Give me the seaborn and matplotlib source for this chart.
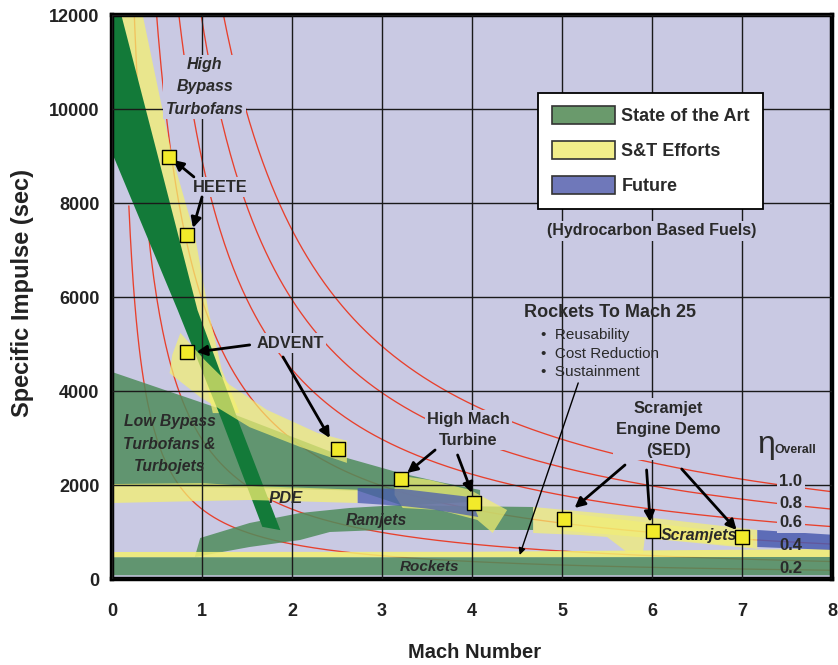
import numpy as np
import pandas as pd
import matplotlib
matplotlib.use("Agg")
import matplotlib.pyplot as plt
from matplotlib.patches import Patch
import seaborn as sns

# ---------------- overall-efficiency reference curves ----------------
eta_levels = [0.1, 0.2, 0.4, 0.6, 0.8, 1.0]
eta_curve_top = [8600, 13000, 13000, 13000, 13000, 13000]   # upper Isp extent drawn
eta_label_text = ["1.0", "0.8", "0.6", "0.4", "0.2"]
eta_label_isp = [2064, 1596, 1192, 723, 234]
fuel_heating_value = 43.0e6   # J/kg, hydrocarbon fuel
g0 = 9.81                     # m/s^2
sound_speed = 295.0           # m/s

# ---------------- demonstrator programs (squares) ----------------
program_names = ["HEETE", "HEETE", "ADVENT", "ADVENT", "HMT", "HMT", "SED", "SED", "SED"]
program_mach = [0.63, 0.83, 0.83, 2.51, 3.21, 4.02, 5.02, 6.01, 7.00]
program_isp = [8980, 7320, 4830, 2770, 2130, 1620, 1280, 1020, 895]

# ---------------- engine-class regions (Mach, Isp outlines) ----------------
hbt_soa_mach = [0.00, 0.00, 0.73, 1.22, 1.67, 1.87, 1.40, 0.95, 0.50, 0.09]
hbt_soa_isp = [12100, 9070, 5720, 3380, 1110, 1040, 3380, 5720, 9070, 12100]

heete_mach = [0.03, 0.33, 0.67, 0.92, 1.07, 1.22, 1.42, 1.12, 0.87, 0.42]
heete_isp = [12100, 12100, 8980, 7320, 5720, 4450, 3530, 3530, 5720, 9070]

advent_mach = [0.76, 1.03, 1.31, 1.72, 2.28, 2.61, 2.61, 2.09, 1.53, 0.98, 0.64, 0.67]
advent_isp = [5235, 4660, 4130, 3600, 3110, 2940, 2470, 2810, 3230, 3870, 4380, 4770]

lowbp_mach = [0.00, 1.17, 2.09, 2.61, 3.20, 3.64, 4.09, 4.09, 3.23, 2.73, 1.50, 0.00]
lowbp_isp = [4405, 3640, 2960, 2575, 2256, 2064, 1894, 1650, 1560, 1880, 1940, 1980]

pde_mach = [0.00, 1.00, 1.53, 2.73, 2.73, 1.53, 1.00, 0.00]
pde_isp = [2020, 2040, 1980, 1900, 1617, 1681, 1660, 1617]

hmt_mach = [3.14, 3.53, 3.98, 4.39, 4.23, 4.06, 3.64, 3.23, 3.14]
hmt_isp = [2213, 2107, 1894, 1468, 979, 1256, 1468, 1511, 1787]

hmt_future_mach = [2.73, 3.23, 3.98, 4.07, 3.53, 3.23, 2.73]
hmt_future_isp = [1936, 1915, 1745, 1319, 1490, 1553, 1617]

ramjet_mach = [0.92, 0.98, 1.53, 2.09, 2.64, 3.20, 3.76, 4.68, 4.68, 3.90, 2.98, 2.42, 2.09, 1.53]
ramjet_isp = [468, 872, 1192, 1404, 1511, 1575, 1553, 1532, 1043, 1043, 1043, 1000, 830, 681]

rocket_mach = [0.0, 4.0, 8.1]
rocket_soa_low = [90, 90, 90]
rocket_soa_high = [475, 475, 480]
rocket_st_high = [585, 590, 650]

scram_mach = [4.68, 6.01, 7.17, 7.17, 5.92, 5.90, 5.72, 5.50, 5.20, 4.68]
scram_isp = [1532, 1298, 1043, 640, 872, 553, 575, 894, 936, 979]

scram_core_mach = [4.94, 7.12, 7.12, 4.94]
scram_core_isp = [1426, 936, 681, 1043]

scram_future_mach = [7.17, 8.10, 8.10, 7.17]
scram_future_isp = [1043, 930, 610, 681]

# ---------------- colours ----------------
BG = "#C9C9E3"
GREEN = "#4F8C5C"
DARK_GREEN = "#137A39"
YELLOW = "#F4F070"
BLUE = "#4A5CB0"
RED = "#E8402C"
TXT = "#2a2a2a"

sns.set_style("white")
plt.rcParams["font.family"] = ["Liberation Sans", "DejaVu Sans"]
plt.rcParams["font.weight"] = "bold"

fig = plt.figure(figsize=(8.38, 6.65), dpi=100)
ax = fig.add_axes([112 / 838, 86 / 665, 720 / 838, 564 / 665])
ax.set_facecolor(BG)

# efficiency curves: Isp = eta * Q / (g0 * a * M)
mach_grid = np.linspace(0.04, 8.2, 500)
frames = []
for e, top in zip(eta_levels, eta_curve_top):
    isp = e * fuel_heating_value / (g0 * sound_speed * mach_grid)
    keep = isp < top
    frames.append(pd.DataFrame({"mach": mach_grid[keep], "isp": isp[keep], "eta": e}))
curve_df = pd.concat(frames, ignore_index=True)
sns.lineplot(data=curve_df, x="mach", y="isp", units="eta", estimator=None,
             sort=False, color=RED, lw=0.95, ax=ax, zorder=1, legend=False)

def region(mx, iy, color, alpha, z):
    ax.fill(mx, iy, color=color, alpha=alpha, lw=0, zorder=z)

region(lowbp_mach, lowbp_isp, GREEN, 0.85, 2)
region(ramjet_mach, ramjet_isp, GREEN, 0.85, 2)
ax.fill_between(rocket_mach, rocket_soa_low, rocket_soa_high, color=GREEN, alpha=0.85, lw=0, zorder=2)
ax.fill_between(rocket_mach, rocket_soa_high, rocket_st_high, color=YELLOW, alpha=0.85, lw=0, zorder=2)
region(heete_mach, heete_isp, YELLOW, 0.75, 2.1)
region(hbt_soa_mach, hbt_soa_isp, DARK_GREEN, 1.0, 2.2)
region(advent_mach, advent_isp, YELLOW, 0.7, 2.3)
region(pde_mach, pde_isp, YELLOW, 0.75, 2.3)
region(hmt_mach, hmt_isp, YELLOW, 0.7, 2.3)
region(scram_mach, scram_isp, YELLOW, 0.7, 2.3)
region(scram_core_mach, scram_core_isp, YELLOW, 0.6, 2.35)
region(hmt_future_mach, hmt_future_isp, BLUE, 0.75, 2.4)
region(scram_future_mach, scram_future_isp, BLUE, 0.85, 2.4)

# axes, grid, frame
ax.set_xlim(0, 8)
ax.set_ylim(0, 12000)
ax.set_xticks(range(0, 9))
ax.set_yticks(range(0, 12001, 2000))
ax.grid(True, color="#1a1a1a", lw=1.0, zorder=3)
ax.set_axisbelow(False)
for s in ax.spines.values():
    s.set_color("black")
    s.set_linewidth(3.2)
ax.tick_params(length=0, labelsize=13, pad=9)
ax.tick_params(axis="x", pad=17)
for lab in ax.get_xticklabels() + ax.get_yticklabels():
    lab.set_fontweight("bold")
    lab.set_color("#222222")
ax.set_xlabel("Mach Number", fontsize=14.5, fontweight="bold", color="#222222")
ax.set_ylabel("Specific Impulse (sec)", fontsize=17, fontweight="bold", color="#222222")
ax.xaxis.set_label_coords(0.503, -0.113)
ax.yaxis.set_label_coords(-0.108, 0.507)

# labels
box = dict(boxstyle="square,pad=0.15", fc=BG, ec="none")
ax.text(1.03, 10470, "High\nBypass\nTurbofans", ha="center", va="center", fontsize=11.5,
        style="italic", fontweight="bold", color=TXT, linespacing=1.6, bbox=box, zorder=4)
ax.text(0.64, 2870, "Low Bypass\nTurbofans &\nTurbojets", ha="center", va="center", fontsize=11.3,
        style="italic", fontweight="bold", color=TXT, linespacing=1.6, zorder=4)
ax.text(1.93, 1723, "PDE", ha="center", va="center", fontsize=12, style="italic",
        fontweight="bold", color=TXT, zorder=4)
ax.text(2.94, 1255, "Ramjets", ha="center", va="center", fontsize=11.3, style="italic",
        fontweight="bold", color=TXT, zorder=4)
ax.text(3.53, 255, "Rockets", ha="center", va="center", fontsize=11, style="italic",
        fontweight="bold", color=TXT, zorder=4)
ax.text(6.10, 936, "Scramjets", ha="left", va="center", fontsize=11.5, style="italic",
        fontweight="bold", color=TXT, zorder=4)

ax.text(1.20, 8340, "HEETE", ha="center", va="center", fontsize=11.8, fontweight="bold",
        color=TXT, bbox=box, zorder=4)
ax.text(1.98, 5020, "ADVENT", ha="center", va="center", fontsize=11.8, fontweight="bold",
        color=TXT, bbox=box, zorder=4)
ax.text(3.96, 3170, "High Mach\nTurbine", ha="center", va="center", fontsize=11.8,
        fontweight="bold", color=TXT, linespacing=1.5, bbox=box, zorder=4)
ax.text(6.18, 3190, "Scramjet\nEngine Demo\n(SED)", ha="center", va="center", fontsize=11.8,
        fontweight="bold", color=TXT, linespacing=1.5, bbox=box, zorder=4)
ax.text(6.00, 7405, "(Hydrocarbon Based Fuels)", ha="center", va="center", fontsize=11.5,
        fontweight="bold", color=TXT, bbox=box, zorder=4)
ax.text(5.53, 5660, "Rockets To Mach 25", ha="center", va="center", fontsize=13,
        fontweight="bold", color=TXT, zorder=4)
for yv, item in zip([5190, 4790, 4400], ["Reusability", "Cost Reduction", "Sustainment"]):
    ax.text(4.77, yv, "\u2022  " + item, ha="left", va="center", fontsize=11,
            fontweight="normal", color=TXT, zorder=4)

# efficiency labels
ax.text(7.27, 2850, "\u03b7", ha="center", va="center", fontsize=23, fontweight="normal",
        color=TXT, zorder=4)
ax.text(7.36, 2745, "Overall", ha="left", va="center", fontsize=8.8, fontweight="bold",
        color=TXT, zorder=4)
for lab, yv in zip(eta_label_text, eta_label_isp):
    ax.text(7.54, yv, lab, ha="center", va="center", fontsize=12, fontweight="bold",
            color=TXT, zorder=4, bbox=box if float(lab) >= 0.6 else None)

# arrows from labels to programs
arrows = [
    ((0.91, 8555), (0.68, 8916)), ((1.00, 8129), (0.90, 7469)),
    ((1.53, 4980), (0.94, 4831)), ((1.90, 4724), (2.42, 3000)),
    ((3.59, 2745), (3.28, 2256)), ((3.84, 2639), (4.00, 1830)),
    ((5.70, 2426), (5.14, 1511)), ((5.94, 2320), (5.98, 1213)),
    ((6.33, 2341), (6.94, 1043)),
]
for start, end in arrows:
    ax.annotate("", xy=end, xytext=start, zorder=5,
                arrowprops=dict(arrowstyle="-|>", color="black", lw=2.0,
                                mutation_scale=15, shrinkA=0, shrinkB=0))
ax.annotate("", xy=(4.53, 511), xytext=(5.18, 4171), zorder=5,
            arrowprops=dict(arrowstyle="-|>", color="black", lw=1.0,
                            mutation_scale=10, shrinkA=0, shrinkB=0))

sns.scatterplot(x=program_mach, y=program_isp, marker="s", s=100, color="#F2EA2A",
                edgecolor="black", linewidth=1.0, ax=ax, zorder=6, legend=False)

# legend
handles = [Patch(fc="#6A9A6C", ec="#333333", lw=1.2, label="State of the Art"),
           Patch(fc="#F2EE8A", ec="#333333", lw=1.2, label="S&T Efforts"),
           Patch(fc="#6F78BA", ec="#333333", lw=1.2, label="Future")]
leg = ax.legend(handles=handles, loc="upper left", bbox_to_anchor=(0.592, 0.862),
                frameon=True, fancybox=False, edgecolor="black", framealpha=1,
                prop=dict(size=13, weight="bold"), handlelength=3.5, handleheight=1.1,
                labelspacing=0.9, borderpad=0.75, handletextpad=0.35, borderaxespad=0)
leg.get_frame().set_linewidth(1.3)
leg.set_zorder(8)
for t in leg.get_texts():
    t.set_color(TXT)

fig.savefig("out.png", dpi=100, facecolor="white")
